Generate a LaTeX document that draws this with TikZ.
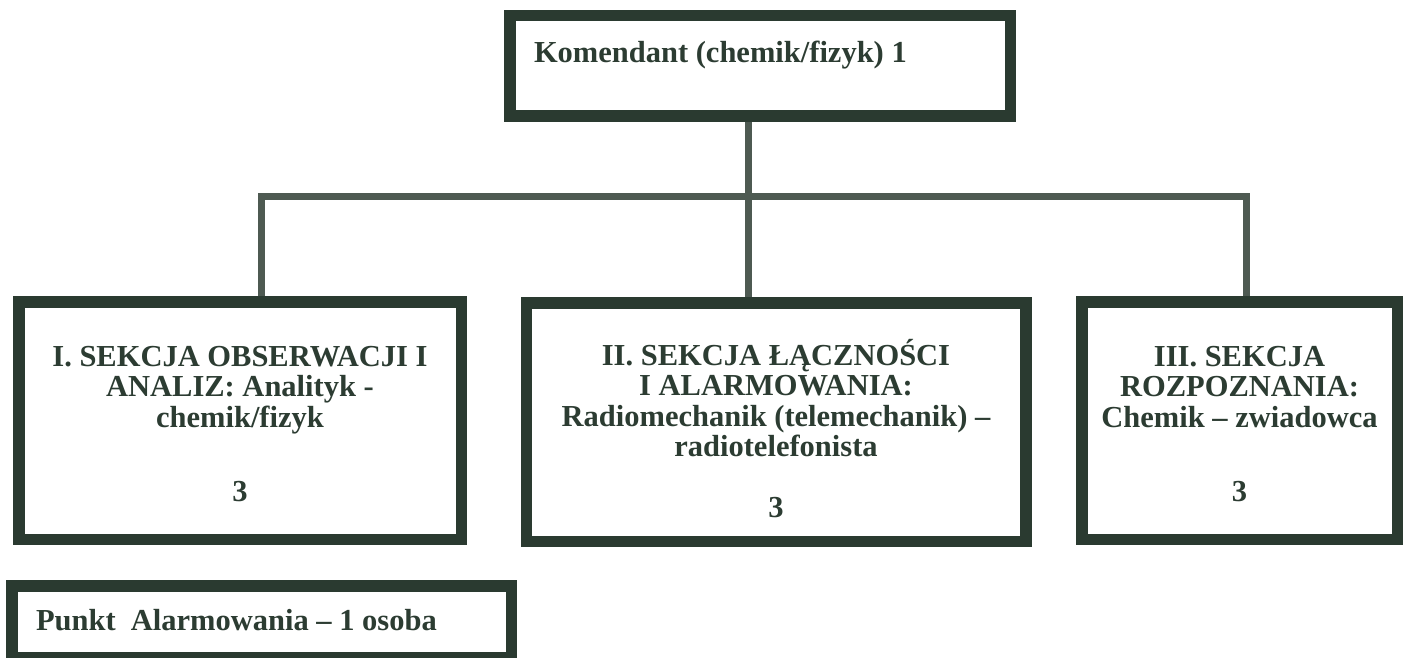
\documentclass[tikz,border=0pt]{standalone}
\usepackage{fontspec}
\setmainfont{Liberation Serif}
\definecolor{boxcol}{RGB}{42,58,48}
\definecolor{linecol}{RGB}{78,90,82}
\definecolor{txtcol}{RGB}{44,60,50}
\tikzset{
  orgbox/.style={draw=boxcol, line width=11.5pt, inner sep=0pt, outer sep=0pt, fill=white},
  conn/.style={draw=linecol, line width=7pt, line join=miter},
  lbl/.style={text=txtcol, inner sep=0pt, outer sep=0pt, font=\bfseries\fontsize{30.5}{30.5}\selectfont},
}
\begin{document}
\begin{tikzpicture}[x=1pt,y=-1pt]
\useasboundingbox (0,0) rectangle (1405,658);
% connector junctions
\coordinate (jt) at (748,196.5);
\coordinate (jl) at (261,196.5);
\coordinate (jr) at (1246,196.5);
% boxes
\node[orgbox, minimum width=500.5pt, minimum height=100.5pt] (top) at (760,66) {};
\node[orgbox, minimum width=442.5pt, minimum height=237.5pt] (left) at (240,420.5) {};
\node[orgbox, minimum width=499.5pt, minimum height=238.5pt] (mid) at (776,422) {};
\node[orgbox, minimum width=315.5pt, minimum height=237.5pt] (right) at (1239.5,420.5) {};
\node[orgbox, minimum width=499.5pt, minimum height=71.5pt] (punkt) at (261.5,621.5) {};
% connectors
\draw[conn, shorten <=5.75pt] (top.south -| jt) -- (jt);
\draw[conn, shorten <=5.75pt, shorten >=5.75pt] (left.north -| jl) -- (jl) -- (jr) -- (right.north -| jr);
\draw[conn, shorten >=5.75pt] (jt) -- (mid.north -| jt);
% texts
\node[lbl, anchor=base west] (ttop) at (534,63) {Komendant (chemik/fizyk) 1};
\node[lbl, anchor=base] (tleft) at (240,366) {\def\arraystretch{1}\setlength{\tabcolsep}{0pt}\begin{tabular}[t]{c}I. SEKCJA OBSERWACJI I\\ANALIZ: Analityk -\\chemik/fizyk\\[43.5pt]3\end{tabular}};
\node[lbl, anchor=base] (tmid) at (776,365) {\def\arraystretch{1}\setlength{\tabcolsep}{0pt}\begin{tabular}[t]{c}II. SEKCJA ŁĄCZNOŚCI\\I ALARMOWANIA:\\Radiomechanik (telemechanik) –\\radiotelefonista\\[30pt]3\end{tabular}};
\node[lbl, anchor=base] (tright) at (1239.5,366) {\def\arraystretch{1}\setlength{\tabcolsep}{0pt}\begin{tabular}[t]{c}III. SEKCJA\\ROZPOZNANIA:\\Chemik – zwiadowca\\[43.5pt]3\end{tabular}};
\node[lbl, anchor=base west] (tpunkt) at (36,630) {Punkt\ \ Alarmowania – 1 osoba};
\end{tikzpicture}
\end{document}
